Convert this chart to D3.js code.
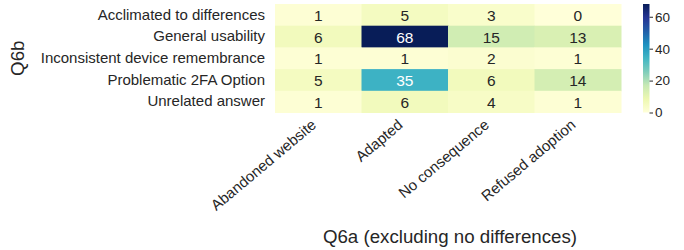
<!DOCTYPE html>
<html><head><meta charset="utf-8">
<script src="https://cdn.jsdelivr.net/npm/d3@7"></script>
<style>body{margin:0;background:#fff}svg{display:block;font-family:"Liberation Sans",Arial,sans-serif}</style>
</head><body><svg id="c" width="684" height="250"></svg>
<script>
const rowLabels = ["Acclimated to differences","General usability","Inconsistent device remembrance","Problematic 2FA Option","Unrelated answer"];
const colLabels = ["Abandoned website","Adapted","No consequence","Refused adoption"];
const values = [
  [1,5,3,0],
  [6,68,15,13],
  [1,1,2,1],
  [5,35,6,14],
  [1,6,4,1]
];
const cbTicks = [0,20,40,60];
const xTitle = "Q6a (excluding no differences)";
const yTitle = "Q6b";
const palette = ["#ffffd9","#edf8b1","#c7e9b4","#7fcdbb","#41b6c4","#1d91c0","#225ea8","#253494","#081d58"];

const svg = d3.select("#c");
const L = 275, R = 621, T = 4, B = 112.5;
const vmin = 0, vmax = d3.max(values.flat());
const color = d3.scaleLinear()
  .domain(palette.map((_, i) => vmin + (vmax - vmin) * i / (palette.length - 1)))
  .range(palette).interpolate(d3.interpolateRgb);

const x = d3.scaleBand().domain(colLabels).range([L, R]);
const y = d3.scaleBand().domain(rowLabels).range([T, B]);
const txt = "#262626";

const cells = [];
values.forEach((row, i) => row.forEach((v, j) => cells.push({r: rowLabels[i], c: colLabels[j], v})));

svg.append("g").selectAll("rect").data(cells).join("rect")
  .attr("x", d => x(d.c)).attr("y", d => y(d.r))
  .attr("width", x.bandwidth() + 0.5).attr("height", y.bandwidth() + 0.5)
  .attr("fill", d => color(d.v));

svg.append("g").selectAll("text").data(cells).join("text")
  .attr("x", d => x(d.c) + x.bandwidth() / 2).attr("y", d => y(d.r) + y.bandwidth() / 2 + 0.5)
  .attr("text-anchor", "middle").attr("dominant-baseline", "central")
  .attr("font-size", 15.5)
  .attr("fill", d => {
    const c = d3.rgb(color(d.v));
    const lum = [c.r, c.g, c.b].map(u => { u /= 255; return u <= 0.03928 ? u / 12.92 : Math.pow((u + 0.055) / 1.055, 2.4); });
    const l = 0.2126 * lum[0] + 0.7152 * lum[1] + 0.0722 * lum[2];
    return l > 0.408 ? txt : "#ffffff";
  })
  .text(d => d.v);

// y axis
const ya = svg.append("g").attr("transform", `translate(${L},0)`)
  .call(d3.axisLeft(y).tickSize(0).tickPadding(10));
ya.select(".domain").remove();
ya.selectAll("text").attr("font-size", 15).attr("fill", txt).attr("font-family", null);

// x axis
const xa = svg.append("g").attr("transform", `translate(0,${B})`)
  .call(d3.axisBottom(x).tickSize(0).tickPadding(0));
xa.select(".domain").remove();
xa.selectAll("text").attr("font-size", 15).attr("fill", txt).attr("font-family", null)
  .attr("text-anchor", "end").attr("dy", null)
  .attr("transform", "translate(-1,14) rotate(-40)");

svg.append("text").attr("x", (L + R) / 2 + 2).attr("y", 243).attr("text-anchor", "middle")
  .attr("font-size", 18.7).attr("fill", txt).text(xTitle);
svg.append("text").attr("transform", `translate(24,${(T + B) / 2}) rotate(-90)`)
  .attr("text-anchor", "middle").attr("font-size", 18.7).attr("fill", txt).text(yTitle);

// colorbar
const cbL = 643, cbW = 6.5;
const cy = d3.scaleLinear().domain([vmin, vmax]).range([B, T]);
const defs = svg.append("defs");
const grad = defs.append("linearGradient").attr("id", "g").attr("x1", 0).attr("y1", 1).attr("x2", 0).attr("y2", 0);
palette.forEach((c, i) => grad.append("stop").attr("offset", i / (palette.length - 1)).attr("stop-color", c));
svg.append("rect").attr("x", cbL).attr("y", T).attr("width", cbW).attr("height", B - T).attr("fill", "url(#g)");
const ca = svg.append("g").attr("transform", `translate(${cbL + cbW},0)`)
  .call(d3.axisRight(cy).tickValues(cbTicks).tickSize(3.5).tickPadding(2));
ca.select(".domain").remove();
ca.selectAll("line").attr("stroke", txt);
ca.selectAll("text").attr("font-size", 13.5).attr("fill", txt).attr("font-family", null);
</script></body></html>
